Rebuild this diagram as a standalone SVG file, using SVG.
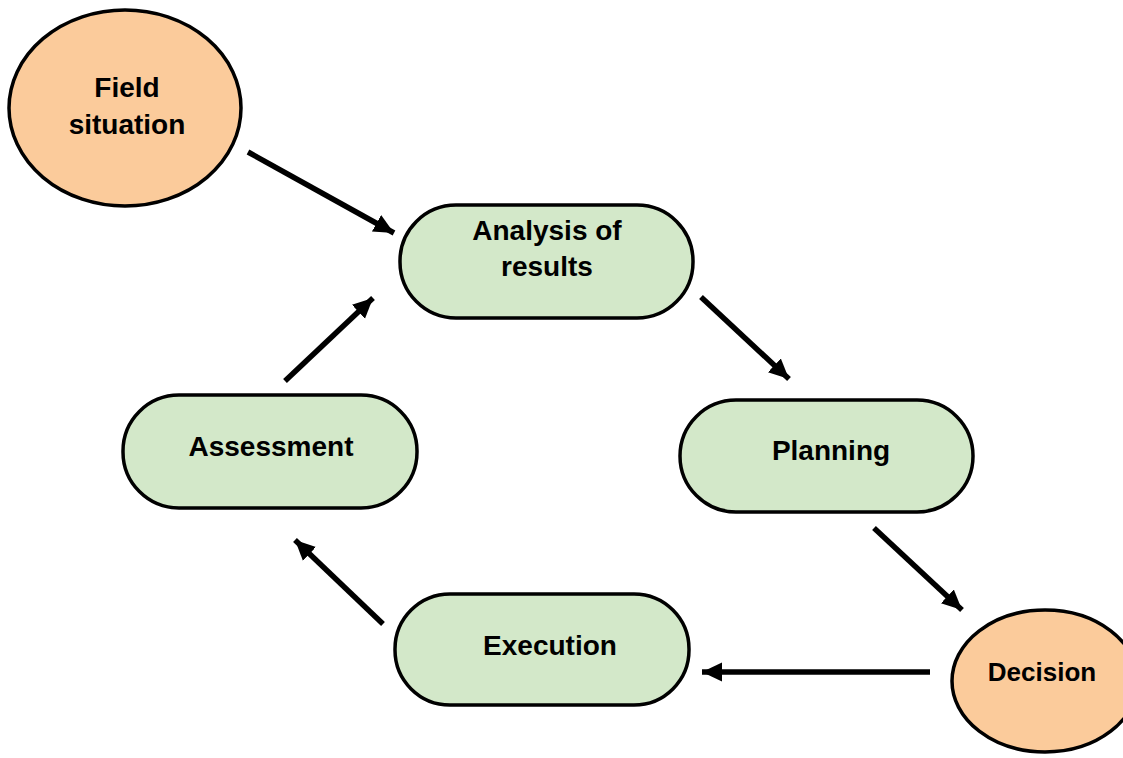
<svg xmlns="http://www.w3.org/2000/svg" width="1123" height="758" viewBox="0 0 1123 758">
<style>
.oval{fill:#FBCB9B;stroke:#000;stroke-width:3.5}
.box{fill:#D3E8C9;stroke:#000;stroke-width:3.5}
.t{font-family:"Liberation Sans",Arial,sans-serif;font-weight:bold;font-size:28px;fill:#000;text-anchor:middle}
.c{stroke:#000;stroke-width:5.5;fill:none;marker-end:url(#ah)}
</style>
<defs>
<marker id="ah" markerUnits="userSpaceOnUse" markerWidth="22" markerHeight="22" viewBox="0 0 22 22" refX="20" refY="11" orient="auto">
<path d="M0,1.5 L20,11 L0,20.5 Z" fill="#000"/>
</marker>
</defs>
<rect width="1123" height="758" fill="#fff"/>
<g id="connectors">
<line class="c" x1="248" y1="152" x2="394" y2="233"/>
<line class="c" x1="701" y1="297" x2="789" y2="379"/>
<line class="c" x1="874" y1="528" x2="962" y2="610"/>
<line class="c" x1="930" y1="672" x2="702" y2="672"/>
<line class="c" x1="383" y1="624" x2="295" y2="540"/>
<line class="c" x1="285" y1="381" x2="373" y2="298"/>
</g>
<g id="field">
<ellipse class="oval" cx="125" cy="108" rx="116" ry="98"/>
<text class="t" x="127" y="97">Field</text>
<text class="t" x="127" y="134">situation</text>
</g>
<g id="analysis">
<rect class="box" x="400" y="205" width="293" height="113" rx="56" ry="56"/>
<text class="t" x="547" y="240">Analysis of</text>
<text class="t" x="547" y="276">results</text>
</g>
<g id="planning">
<rect class="box" x="680" y="400" width="293" height="112" rx="56" ry="56"/>
<text class="t" x="831" y="460">Planning</text>
</g>
<g id="assessment">
<rect class="box" x="123" y="395" width="294" height="113" rx="56" ry="56"/>
<text class="t" x="271" y="456">Assessment</text>
</g>
<g id="execution">
<rect class="box" x="395" y="594" width="294" height="111" rx="55" ry="55"/>
<text class="t" x="550" y="655">Execution</text>
</g>
<g id="decision">
<ellipse class="oval" cx="1045" cy="681" rx="93" ry="71"/>
<text class="t" x="1042" y="681" style="font-size:26px">Decision</text>
</g>
</svg>
